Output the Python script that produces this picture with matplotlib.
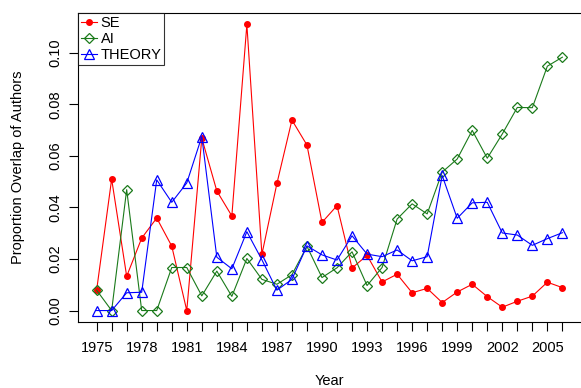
import numpy as np
import matplotlib
matplotlib.use("Agg")
import matplotlib.pyplot as plt

plt.rcParams['font.family'] = ['Liberation Sans', 'DejaVu Sans']

years = np.arange(1975, 2007)

se = [0.0079, 0.0510, 0.0133, 0.0281, 0.0359, 0.0250, 0.0000, 0.0669,
      0.0464, 0.0367, 0.1110, 0.0218, 0.0493, 0.0739, 0.0642, 0.0342,
      0.0407, 0.0165, 0.0214, 0.0111, 0.0141, 0.0069, 0.0086, 0.0031,
      0.0072, 0.0102, 0.0054, 0.0013, 0.0036, 0.0056, 0.0110, 0.0089]

ai = [0.0079, 0.0000, 0.0469, 0.0000, 0.0000, 0.0167, 0.0167, 0.0057,
      0.0153, 0.0055, 0.0202, 0.0121, 0.0102, 0.0139, 0.0249, 0.0128,
      0.0166, 0.0228, 0.0097, 0.0167, 0.0355, 0.0414, 0.0375, 0.0537,
      0.0588, 0.0699, 0.0591, 0.0685, 0.0788, 0.0787, 0.0948, 0.0983]

theory = [0.0000, 0.0000, 0.0069, 0.0071, 0.0507, 0.0420, 0.0495, 0.0675,
          0.0207, 0.0162, 0.0306, 0.0197, 0.0079, 0.0121, 0.0251, 0.0216,
          0.0196, 0.0290, 0.0219, 0.0209, 0.0235, 0.0193, 0.0209, 0.0524,
          0.0358, 0.0418, 0.0420, 0.0301, 0.0293, 0.0253, 0.0279, 0.0302]

fig = plt.figure(figsize=(5.81, 3.88), dpi=100)
ax = fig.add_axes([78 / 581, 1 - 322 / 388, 503 / 581, 309 / 388])

ax.plot(years, se, color='red', marker='o', markersize=4, lw=0.8, label='SE')
ax.plot(years, ai, color='#1a7a1a', marker='D', markersize=5.5, mfc='none',
        mew=0.9, lw=0.8, label='AI')
ax.plot(years, theory, color='blue', marker='^', markersize=7, mfc='none',
        mew=0.9, lw=0.8, label='THEORY')

span = years[-1] - years[0]
ax.set_xlim(years[0] - 0.04 * span, years[-1] + 0.04 * span)
ymax = max(max(se), max(ai), max(theory))
ax.set_ylim(-0.04 * ymax, ymax * 1.04)

ax.set_xticks(years)
ax.set_xticklabels([str(y) if (y - 1975) % 3 == 0 else '' for y in years])
ax.set_yticks([0.0, 0.02, 0.04, 0.06, 0.08, 0.10])
ax.set_yticklabels(['0.00', '0.02', '0.04', '0.06', '0.08', '0.10'],
                   rotation=90, va='center')
ax.tick_params(axis='both', labelsize=10.5, length=6.5, width=0.8,
               color='black')
ax.tick_params(axis='x', pad=7)
ax.tick_params(axis='y', pad=5)

ax.spines['right'].set_visible(False)
for s in ['left', 'bottom', 'top']:
    ax.spines[s].set_linewidth(0.8)

fig.text(329 / 581, 1 - 381 / 388, 'Year', fontsize=10.5,
         ha='center', va='center')
fig.text(18 / 581, 1 - 167 / 388, 'Proportion Overlap of Authors',
         fontsize=10.5, rotation=90, ha='center', va='center')

leg = ax.legend(loc='upper left', fontsize=10.5, frameon=True, fancybox=False,
                borderaxespad=0, handlelength=1.1, handletextpad=0.25,
                labelspacing=0.15, borderpad=0.2)
leg.get_frame().set_edgecolor('black')
leg.get_frame().set_linewidth(0.8)

fig.savefig('out.png', dpi=100)
